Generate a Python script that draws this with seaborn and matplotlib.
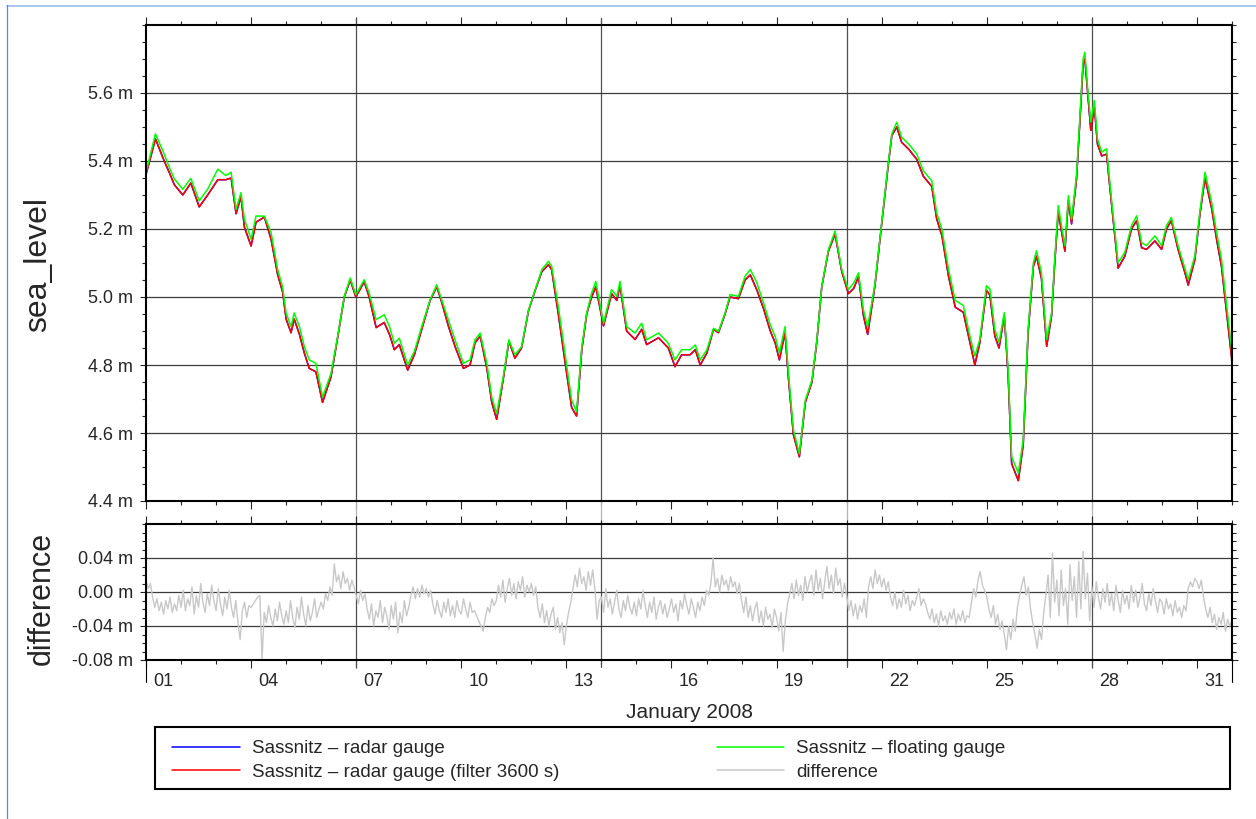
import numpy as np
import pandas as pd
import matplotlib
matplotlib.use("Agg")
import matplotlib.pyplot as plt
import matplotlib.dates as mdates
from matplotlib.ticker import FixedLocator, FixedFormatter, MultipleLocator
from matplotlib.transforms import ScaledTranslation
from matplotlib.lines import Line2D
from matplotlib.patches import Rectangle
import seaborn as sns

sns.set_style("ticks")
plt.rcParams["font.family"] = ["Liberation Sans", "DejaVu Sans"]

# ---------------- data ----------------
start = pd.Timestamp("2008-01-01")

# sample times of the sea level curves, in days after 2008-01-01 00:00
sea_days = [0.0, 0.27, 0.52, 0.67, 0.81, 1.05, 1.28, 1.52, 1.76, 2.05, 2.28, 2.43, 2.57, 2.71, 2.81,
            3.0, 3.14, 3.38, 3.57, 3.76, 3.9, 4.0, 4.14, 4.23, 4.38, 4.52, 4.66, 4.85, 5.04, 5.28,
            5.47, 5.66, 5.83, 5.99, 6.23, 6.37, 6.57, 6.80, 6.95, 7.09, 7.23, 7.47, 7.66, 7.87, 8.11,
            8.30, 8.44, 8.63, 8.82, 9.06, 9.25, 9.39, 9.54, 9.73, 9.87, 10.01, 10.20, 10.36, 10.53,
            10.72, 10.92, 11.11, 11.30, 11.49, 11.58, 11.77, 11.96, 12.15, 12.29, 12.44, 12.58, 12.72,
            12.84, 13.06, 13.29, 13.44, 13.53, 13.72, 13.96, 14.15, 14.29, 14.63, 14.91, 15.10, 15.29,
            15.53, 15.68, 15.82, 16.01, 16.20, 16.34, 16.53, 16.67, 16.91, 17.10, 17.25, 17.44, 17.63,
            17.82, 17.96, 18.08, 18.24, 18.34, 18.48, 18.65, 18.82, 19.01, 19.15, 19.29, 19.48, 19.67,
            19.86, 20.05, 20.20, 20.34, 20.48, 20.60, 20.81, 21.0, 21.19, 21.29, 21.43, 21.57, 21.77,
            22.0, 22.19, 22.43, 22.57, 22.72, 22.91, 23.10, 23.33, 23.52, 23.66, 23.80, 23.99, 24.09,
            24.23, 24.35, 24.50, 24.61, 24.71, 24.90, 25.04, 25.18, 25.33, 25.42, 25.56, 25.71, 25.85,
            25.94, 26.04, 26.23, 26.33, 26.42, 26.56, 26.66, 26.75, 26.80, 26.88, 26.97, 27.07, 27.16,
            27.28, 27.42, 27.56, 27.75, 27.94, 28.13, 28.28, 28.42, 28.56, 28.80, 28.99, 29.13, 29.27,
            29.46, 29.66, 29.75, 29.94, 30.08, 30.23, 30.42, 30.56, 30.70, 30.85, 30.99, 31.0]

floating_gauge = [5.367, 5.48, 5.42, 5.38, 5.347, 5.317, 5.349, 5.283, 5.317, 5.376, 5.357, 5.367, 5.258,
                  5.307, 5.229, 5.17, 5.238, 5.238, 5.19, 5.08, 5.03, 4.953, 4.913, 4.953, 4.913, 4.854,
                  4.815, 4.805, 4.706, 4.775, 4.884, 5.002, 5.056, 5.007, 5.051, 5.012, 4.933, 4.948,
                  4.913, 4.864, 4.879, 4.80, 4.84, 4.913, 4.992, 5.036, 4.992, 4.933, 4.874, 4.805,
                  4.815, 4.874, 4.894, 4.805, 4.706, 4.657, 4.768, 4.874, 4.83, 4.854, 4.962, 5.022,
                  5.081, 5.105, 5.091, 4.972, 4.835, 4.697, 4.662, 4.854, 4.953, 5.012, 5.046, 4.923,
                  5.022, 5.002, 5.046, 4.913, 4.894, 4.923, 4.874, 4.894, 4.864, 4.815, 4.845, 4.845,
                  4.859, 4.815, 4.845, 4.908, 4.899, 4.953, 5.007, 5.002, 5.061, 5.081, 5.041, 4.982,
                  4.918, 4.884, 4.835, 4.913, 4.776, 4.610, 4.539, 4.697, 4.756, 4.874, 5.031, 5.14,
                  5.194, 5.081, 5.022, 5.041, 5.071, 4.962, 4.913, 5.041, 5.218, 5.396, 5.48, 5.514,
                  5.47, 5.45, 5.421, 5.371, 5.342, 5.248, 5.199, 5.081, 4.99, 4.975, 4.885, 4.826,
                  4.875, 5.033, 5.023, 4.905, 4.866, 4.954, 4.787, 4.531, 4.482, 4.58, 4.905, 5.101,
                  5.136, 5.072, 4.875, 4.954, 5.111, 5.269, 5.151, 5.298, 5.229, 5.357, 5.534, 5.70,
                  5.72, 5.613, 5.514, 5.578, 5.465, 5.426, 5.436, 5.288, 5.101, 5.131, 5.21, 5.239,
                  5.16, 5.151, 5.18, 5.151, 5.21, 5.234, 5.151, 5.082, 5.052, 5.121, 5.249, 5.367,
                  5.278, 5.19, 5.111, 4.974, 4.846, 4.79]

radar_filtered = [5.36, 5.465, 5.40, 5.365, 5.33, 5.30, 5.335, 5.265, 5.30, 5.345, 5.345, 5.35, 5.245,
                  5.295, 5.205, 5.15, 5.22, 5.235, 5.17, 5.065, 5.015, 4.935, 4.895, 4.935, 4.89, 4.835,
                  4.79, 4.78, 4.69, 4.765, 4.88, 5.00, 5.05, 5.00, 5.045, 5.00, 4.91, 4.925, 4.89,
                  4.845, 4.86, 4.785, 4.83, 4.905, 4.99, 5.03, 4.985, 4.915, 4.855, 4.79, 4.80, 4.865,
                  4.885, 4.79, 4.69, 4.64, 4.76, 4.87, 4.82, 4.85, 4.96, 5.02, 5.075, 5.095, 5.08,
                  4.95, 4.81, 4.675, 4.65, 4.845, 4.95, 5.00, 5.03, 4.915, 5.01, 4.99, 5.035, 4.90,
                  4.875, 4.905, 4.86, 4.88, 4.85, 4.795, 4.83, 4.83, 4.845, 4.80, 4.835, 4.905, 4.895,
                  4.95, 5.00, 4.995, 5.05, 5.065, 5.02, 4.965, 4.90, 4.865, 4.815, 4.895, 4.76, 4.595,
                  4.53, 4.69, 4.75, 4.87, 5.03, 5.135, 5.185, 5.075, 5.01, 5.025, 5.06, 4.945, 4.89,
                  5.035, 5.215, 5.39, 5.475, 5.50, 5.455, 5.435, 5.405, 5.355, 5.325, 5.23, 5.18,
                  5.06, 4.97, 4.955, 4.865, 4.80, 4.865, 5.02, 5.005, 4.885, 4.85, 4.945, 4.77, 4.51,
                  4.46, 4.565, 4.895, 5.09, 5.12, 5.055, 4.855, 4.945, 5.10, 5.25, 5.135, 5.285, 5.215,
                  5.345, 5.52, 5.685, 5.70, 5.60, 5.49, 5.56, 5.45, 5.415, 5.42, 5.275, 5.085, 5.12,
                  5.20, 5.225, 5.145, 5.14, 5.165, 5.14, 5.20, 5.225, 5.14, 5.07, 5.035, 5.11, 5.24,
                  5.35, 5.26, 5.17, 5.09, 4.95, 4.82, 4.78]

# radar gauge (unfiltered) lies underneath the filtered curve everywhere
radar_gauge = radar_filtered

# difference, 90-minute samples from 2008-01-01 00:00 to 2008-02-01 00:00 (one row per day)
diff_step_minutes = 90
difference = [
    0.014, 0.004, 0.010, -0.006, -0.018, -0.008, -0.022, -0.012, -0.026, -0.010, -0.020, -0.006, -0.024, -0.014, -0.022, -0.004,
    -0.018, 0.002, -0.022, -0.008, -0.016, 0.006, -0.026, -0.004, -0.018, 0.010, -0.012, -0.024, -0.002, -0.016, 0.008, -0.010,
    -0.022, 0.004, -0.014, -0.028, -0.006, -0.020, 0.002, -0.018, -0.030, -0.010, -0.036, -0.056, -0.022, -0.012, -0.030, -0.016,
    -0.018, -0.014, -0.010, -0.006, -0.004, -0.080, -0.024, -0.036, -0.016, -0.030, -0.040, -0.020, -0.034, -0.012, -0.028, -0.038,
    -0.022, -0.036, -0.010, -0.030, -0.042, -0.018, -0.032, -0.006, -0.026, -0.040, -0.016, -0.034, -0.024, -0.008, -0.030, -0.020,
    -0.012, -0.020, -0.002, -0.010, 0.006, -0.004, 0.033, 0.012, 0.020, 0.004, 0.024, 0.010, 0.016, 0.002, 0.014, 0.006,
    -0.004, -0.014, 0.002, -0.010, -0.002, -0.020, -0.032, -0.014, -0.040, -0.022, -0.030, -0.010, -0.036, -0.018, -0.028, -0.044,
    -0.016, -0.032, -0.012, -0.048, -0.024, -0.036, -0.010, -0.028, -0.018, -0.004, 0.006, -0.008, 0.004, -0.006, 0.008, -0.002,
    0.004, -0.006, 0.002, -0.014, -0.026, -0.010, -0.022, -0.030, -0.012, -0.024, -0.008, -0.028, -0.016, -0.030, -0.010, -0.022,
    -0.026, -0.008, -0.020, -0.030, -0.012, -0.024, -0.022, -0.028, -0.034, -0.040, -0.046, -0.030, -0.018, -0.024, -0.008, -0.016,
    -0.010, 0.008, -0.006, 0.014, -0.012, 0.004, 0.016, -0.004, 0.010, -0.008, 0.012, 0.002, 0.018, -0.006, 0.008, 0.000,
    0.010, -0.004, 0.006, -0.018, -0.030, -0.014, -0.036, -0.022, -0.040, -0.026, -0.018, -0.044, -0.030, -0.048, -0.036, -0.062,
    -0.040, -0.024, -0.012, 0.004, 0.020, 0.006, 0.028, 0.010, 0.018, 0.002, 0.024, 0.008, 0.026, 0.004, -0.032, -0.010,
    -0.006, -0.024, 0.004, -0.018, -0.008, -0.026, -0.012, 0.002, -0.020, -0.030, -0.010, -0.022, -0.004, -0.018, -0.026, -0.012,
    -0.028, -0.008, -0.020, 0.002, -0.016, -0.030, -0.012, -0.024, -0.006, -0.032, -0.018, -0.010, -0.026, -0.014, -0.030, -0.020,
    -0.008, -0.024, -0.014, -0.034, -0.010, -0.020, -0.002, -0.016, -0.026, -0.008, -0.018, -0.030, -0.012, -0.022, -0.006, -0.016,
    0.002, -0.004, 0.010, 0.040, 0.006, 0.016, 0.000, 0.020, 0.008, 0.014, 0.002, 0.018, 0.006, 0.012, -0.002, 0.010,
    -0.010, -0.024, -0.006, -0.030, -0.016, -0.034, -0.020, -0.012, -0.036, -0.022, -0.040, -0.018, -0.032, -0.026, -0.042, -0.020,
    -0.030, -0.046, -0.024, -0.070, -0.034, -0.014, -0.002, 0.010, -0.008, 0.014, -0.004, 0.008, -0.010, 0.018, 0.000, 0.012,
    0.020, -0.004, 0.026, 0.002, 0.016, -0.008, 0.012, 0.030, 0.004, 0.020, -0.002, 0.028, 0.008, 0.016, -0.006, 0.010,
    -0.004, -0.022, -0.010, -0.028, -0.014, -0.032, -0.016, -0.024, -0.008, -0.030, 0.006, 0.018, 0.004, 0.026, 0.010, 0.020,
    0.006, 0.016, 0.002, 0.012, -0.006, -0.016, 0.000, -0.020, -0.008, -0.018, 0.002, -0.014, -0.004, -0.022, -0.010, -0.016,
    -0.006, 0.004, -0.016, -0.008, -0.014, -0.024, -0.032, -0.020, -0.036, -0.026, -0.040, -0.022, -0.034, -0.028, -0.038, -0.024,
    -0.032, -0.020, -0.038, -0.026, -0.034, -0.022, -0.036, -0.028, -0.030, -0.012, 0.004, -0.006, 0.014, 0.024, 0.008, 0.002,
    -0.006, -0.020, -0.030, -0.016, -0.038, -0.026, -0.044, -0.034, -0.050, -0.068, -0.040, -0.056, -0.032, -0.046, -0.018, -0.004,
    0.008, 0.018, -0.004, 0.006, -0.020, -0.036, -0.050, -0.066, -0.044, -0.056, -0.024, -0.004, 0.020, -0.030, 0.046, -0.012,
    0.014, -0.028, 0.026, -0.016, 0.004, -0.038, 0.032, -0.010, 0.018, -0.030, 0.036, -0.020, 0.048, -0.008, 0.022, -0.034,
    0.006, -0.018, 0.012, -0.006, -0.020, 0.004, -0.012, 0.010, -0.016, -0.002, -0.022, 0.008, -0.010, -0.024, 0.002, -0.014,
    -0.004, -0.020, 0.008, -0.012, 0.002, -0.018, -0.006, 0.010, -0.014, -0.022, -0.002, -0.016, 0.004, -0.010, -0.024, -0.008,
    -0.012, -0.026, -0.008, -0.020, -0.014, -0.028, -0.010, -0.024, -0.018, -0.030, -0.016, -0.022, 0.004, 0.012, 0.006, 0.016,
    0.012, 0.004, 0.014, -0.006, -0.020, -0.030, -0.018, -0.036, -0.026, -0.044, -0.030, -0.038, -0.024, -0.046, -0.032, -0.040,
    -0.034,
]

sea_ticks = [4.4, 4.6, 4.8, 5.0, 5.2, 5.4, 5.6]
sea_tick_labels = ["4.4 m", "4.6 m", "4.8 m", "5.0 m", "5.2 m", "5.4 m", "5.6 m"]
diff_ticks = [-0.08, -0.04, 0.0, 0.04]
diff_tick_labels = ["-0.08 m", "-0.04 m", "0.00 m", "0.04 m"]
day_labels = ["01", "04", "07", "10", "13", "16", "19", "22", "25", "28", "31"]
week_lines = ["2008-01-07", "2008-01-14", "2008-01-21", "2008-01-28"]

labels = ["Sassnitz \u2013 radar gauge", "Sassnitz \u2013 radar gauge (filter 3600 s)",
          "Sassnitz \u2013 floating gauge", "difference"]
colors = ["#0000ff", "#ff0000", "#00ff00", "#c8c8c8"]

# ---------------- frames ----------------
sea_time = start + pd.to_timedelta(sea_days, unit="D")
diff_time = pd.date_range(start, periods=len(difference), freq=f"{diff_step_minutes}min")
sea_df = pd.DataFrame({"time": sea_time, "radar": radar_gauge, "radar_f": radar_filtered,
                       "float": floating_gauge})
diff_df = pd.DataFrame({"time": diff_time, "difference": difference})

# ---------------- figure ----------------
W, H = 1256, 819
fig = plt.figure(figsize=(W / 100, H / 100), dpi=100)
ax1 = fig.add_axes([146 / W, 1 - 501 / H, 1086 / W, 476 / H])
ax2 = fig.add_axes([146 / W, 1 - 660 / H, 1086 / W, 136 / H])

lw = 1.1
sns.lineplot(data=sea_df, x="time", y="radar", ax=ax1, color=colors[0], lw=lw, sort=False, estimator=None)
sns.lineplot(data=sea_df, x="time", y="radar_f", ax=ax1, color=colors[1], lw=lw, sort=False, estimator=None)
sns.lineplot(data=sea_df, x="time", y="float", ax=ax1, color=colors[2], lw=lw, sort=False, estimator=None)
sns.lineplot(data=diff_df, x="time", y="difference", ax=ax2, color=colors[3], lw=1.0, sort=False,
             estimator=None)

x0 = mdates.date2num(start)
x1 = mdates.date2num(pd.Timestamp("2008-02-01"))
label_dates = [mdates.date2num(pd.Timestamp(f"2008-01-{d}")) for d in day_labels]

for ax in (ax1, ax2):
    ax.set_xlim(x0, x1)
    ax.set_xlabel("")
    ax.set_ylabel("")
    for s in ax.spines.values():
        s.set_visible(True)
        s.set_linewidth(1.5)
        s.set_color("black")
    ax.xaxis.set_major_locator(FixedLocator(label_dates))
    ax.xaxis.set_minor_locator(mdates.DayLocator())
    ax.tick_params(axis="x", which="major", direction="out", length=5.5, width=0.8,
                   top=True, bottom=True, labelsize=13, pad=4)
    ax.tick_params(axis="x", which="minor", direction="out", length=3, width=0.8, top=True, bottom=True)
    ax.tick_params(axis="y", which="major", direction="out", length=4.5, width=0.8,
                   left=True, right=True, labelsize=13, pad=5)
    ax.tick_params(axis="y", which="minor", direction="out", length=2.8, width=0.8, left=True, right=True)
    ax.grid(False)
    ax.yaxis.grid(True, which="major", color="#3c3c3c", lw=0.9)
    for d in week_lines:
        xd = mdates.date2num(pd.Timestamp(d))
        ax.axvline(xd, color="#505050", lw=0.9, zorder=0.5)

# top panel
ax1.set_ylim(4.4, 5.8)
ax1.yaxis.set_major_locator(FixedLocator(sea_ticks))
ax1.yaxis.set_major_formatter(FixedFormatter(sea_tick_labels))
ax1.yaxis.set_minor_locator(MultipleLocator(0.05))
ax1.tick_params(axis="x", labelbottom=False)
for d in week_lines:
    xd = mdates.date2num(pd.Timestamp(d))
    ax1.axvline(xd, ymin=-0.048, ymax=0.0, color="#b4b4b4", lw=0.9, clip_on=False)
    ax1.axvline(xd, ymin=1.0, ymax=1.015, color="#505050", lw=0.9, clip_on=False)

# bottom panel
ax2.set_ylim(-0.08, 0.08)
ax2.yaxis.set_major_locator(FixedLocator(diff_ticks))
ax2.yaxis.set_major_formatter(FixedFormatter(diff_tick_labels))
ax2.yaxis.set_minor_locator(MultipleLocator(0.01))
ax2.xaxis.set_major_formatter(mdates.DateFormatter("%d"))
for d in week_lines:
    xd = mdates.date2num(pd.Timestamp(d))
    ax2.axvline(xd, ymin=-0.05, ymax=0.0, color="#505050", lw=0.9, clip_on=False)
for xd in (x0, x1):
    ax2.axvline(xd, ymin=-0.165, ymax=0.0, color="black", lw=0.8, clip_on=False)

# centre the day annotations in their day interval (GMT style)
offset = ScaledTranslation(0.175, 0, fig.dpi_scale_trans)
for lab in ax2.get_xticklabels():
    lab.set_transform(lab.get_transform() + offset)

# axis titles
fig.text(38 / W, 1 - 265 / H, "sea_level", rotation=90, ha="center", va="center", fontsize=23)
fig.text(42 / W, 1 - 598 / H, "difference", rotation=90, ha="center", va="center", fontsize=22)
fig.text(690 / W, 1 - 713 / H, "January 2008", ha="center", va="center", fontsize=15)

# legend
handles = [Line2D([], [], color=c, lw=1.1) for c in colors]
fig.legend(handles, labels, loc="upper left", bbox_to_anchor=(172 / W, 1 - 740 / H), ncol=2,
           frameon=False, fontsize=13.5, handlelength=3.6, handletextpad=0.65, columnspacing=8.4,
           labelspacing=0.36, borderpad=0, borderaxespad=0)
fig.add_artist(Rectangle((155 / W, 1 - 789 / H), 1075 / W, 62 / H, transform=fig.transFigure,
                         fill=False, edgecolor="black", lw=1.5))

# screenshot frame lines
fig.add_artist(Line2D([7 / W, 1], [1 - 5.5 / H, 1 - 5.5 / H], transform=fig.transFigure,
                      color="#a9c6ee", lw=1.4))
fig.add_artist(Line2D([7.3 / W, 7.3 / W], [0, 1 - 5 / H], transform=fig.transFigure,
                      color="#5b8bd0", lw=0.9))

fig.savefig("out.png", dpi=100)
